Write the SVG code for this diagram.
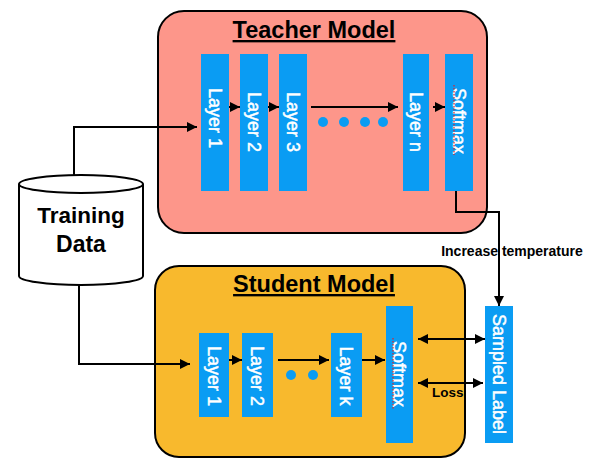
<svg xmlns="http://www.w3.org/2000/svg" width="591" height="471" viewBox="0 0 591 471">
<defs>
<marker id="ah" viewBox="0 0 10 10" refX="10" refY="5" markerWidth="10" markerHeight="10" markerUnits="userSpaceOnUse" orient="auto-start-reverse">
<path d="M0,0 L10,5 L0,10 Z" fill="#000"/>
</marker>
<style>
.box{stroke:#000;stroke-width:2}
.layer{fill:#0A9CF3}
.lt{font-family:"Liberation Sans",Arial,sans-serif;font-size:18px;fill:#fff;stroke:#fff;stroke-width:0.5}
.title{font-family:"Liberation Sans",Arial,sans-serif;font-size:23.5px;font-weight:bold;fill:#000;text-decoration:underline}
.lbl{font-family:"Liberation Sans",Arial,sans-serif;font-weight:bold;fill:#000}
.conn{fill:none;stroke:#000;stroke-width:2}
.dot{fill:#0A9CF3}
.spell{stroke:#E0202A;stroke-width:1.2;stroke-dasharray:1.5 1.5}
</style>
</defs>
<rect width="591" height="471" fill="#fff"/>

<g id="teacher">
<rect class="box" x="158" y="11" width="329" height="222" rx="26" fill="#FD968A"/>
<text class="title" x="314" y="38" text-anchor="middle">Teacher Model</text>
</g>
<g id="t-layer1"><rect class="layer" x="201" y="54" width="28" height="137"/><text class="lt" transform="translate(209,118) rotate(90)" text-anchor="middle">Layer 1</text></g>
<g id="t-layer2"><rect class="layer" x="240" y="54" width="28" height="137"/><text class="lt" transform="translate(248,122) rotate(90)" text-anchor="middle">Layer 2</text></g>
<g id="t-layer3"><rect class="layer" x="279" y="54" width="28" height="137"/><text class="lt" transform="translate(287,122) rotate(90)" text-anchor="middle">Layer 3</text></g>
<g id="t-layern"><rect class="layer" x="403" y="54" width="26" height="137"/><text class="lt" transform="translate(410,122) rotate(90)" text-anchor="middle">Layer n</text></g>
<g id="t-softmax"><rect class="layer" x="445" y="54" width="28" height="137"/><text class="lt" transform="translate(453,121) rotate(90)" text-anchor="middle">Softmax</text><line class="spell" x1="454" y1="85" x2="454" y2="155"/></g>
<g id="t-dots"><circle class="dot" cx="323" cy="122" r="5"/><circle class="dot" cx="344" cy="122" r="5"/><circle class="dot" cx="365" cy="122" r="5"/><circle class="dot" cx="383" cy="122" r="5"/></g>

<g id="student">
<rect class="box" x="155" y="266" width="310" height="191" rx="24" fill="#F8B92D"/>
<text class="title" x="314" y="292" text-anchor="middle">Student Model</text>
</g>
<g id="s-layer1"><rect class="layer" x="199" y="333" width="30" height="84"/><text class="lt" transform="translate(208,376) rotate(90)" text-anchor="middle">Layer 1</text></g>
<g id="s-layer2"><rect class="layer" x="242" y="333" width="31" height="84"/><text class="lt" transform="translate(251,376) rotate(90)" text-anchor="middle">Layer 2</text></g>
<g id="s-layerk"><rect class="layer" x="331" y="333" width="31" height="84"/><text class="lt" transform="translate(340,376) rotate(90)" text-anchor="middle">Layer k</text></g>
<g id="s-softmax"><rect class="layer" x="386" y="306" width="27" height="137"/><text class="lt" transform="translate(393,374) rotate(90)" text-anchor="middle">Softmax</text><line class="spell" x1="393" y1="338" x2="393" y2="410"/></g>
<g id="s-dots"><circle class="dot" cx="291" cy="375" r="5"/><circle class="dot" cx="313" cy="375" r="5"/></g>

<g id="data">
<path d="M19,184 L19,276 A62,9 0 0 0 143,276 L143,184" fill="#fff" stroke="#000" stroke-width="2"/>
<ellipse cx="81" cy="184" rx="62" ry="9" fill="#fff" stroke="#000" stroke-width="2"/>
<text class="lbl" x="81" y="223" text-anchor="middle" font-size="22.5">Training</text>
<text class="lbl" x="81" y="252" text-anchor="middle" font-size="23">Data</text>
</g>

<g id="sampled">
<rect class="layer" x="485" y="306" width="28" height="137"/>
<text class="lt" transform="translate(493,374) rotate(90)" text-anchor="middle" font-size="19">Sampled Label</text>
</g>

<g id="connectors">
<path class="conn" d="M74,175 L74,127 L197,127" marker-end="url(#ah)"/>
<path class="conn" d="M79,285 L79,364 L190,364" marker-end="url(#ah)"/>
<path class="conn" d="M229,107 L240,107" marker-end="url(#ah)"/>
<path class="conn" d="M268,107 L279,107" marker-end="url(#ah)"/>
<path class="conn" d="M311,107 L398,107" marker-end="url(#ah)"/>
<path class="conn" d="M433,107 L445,107" marker-end="url(#ah)"/>
<path class="conn" d="M229,360 L242,360" marker-end="url(#ah)"/>
<path class="conn" d="M278,360 L329,360" marker-end="url(#ah)"/>
<path class="conn" d="M362,360 L385,360" marker-end="url(#ah)"/>
<path class="conn" d="M456,191 L456,212 L499,212 L499,306" marker-end="url(#ah)"/>
<path class="conn" d="M418,339 L485,339" marker-start="url(#ah)" marker-end="url(#ah)"/>
<path class="conn" d="M418,383 L483,383" marker-start="url(#ah)" marker-end="url(#ah)"/>
<text class="lbl" x="512" y="256" text-anchor="middle" font-size="14">Increase temperature</text>
<text class="lbl" x="432" y="397" font-size="13.5">Loss</text>
</g>
</svg>
